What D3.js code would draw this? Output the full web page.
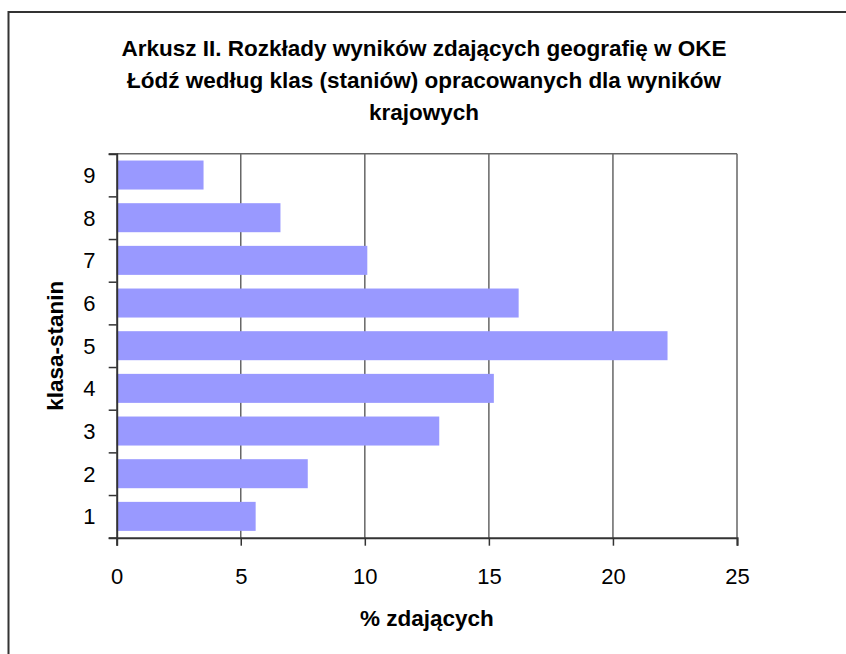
<!DOCTYPE html>
<html>
<head>
<meta charset="utf-8">
<script src="https://cdn.jsdelivr.net/npm/d3@7"></script>
<style>
  html, body { margin: 0; padding: 0; background: #fff; }
  svg { display: block; font-family: Arial, "Liberation Sans", sans-serif; }
</style>
</head>
<body>
<svg id="chart" width="846" height="654"></svg>
<script>
// data
var classes = ['1', '2', '3', '4', '5', '6', '7', '8', '9']
var percents = [5.6, 7.7, 13.0, 15.2, 22.2, 16.2, 10.1, 6.6, 3.5]
var xTicks = [0, 5, 10, 15, 20, 25]
var titleLines = [
  'Arkusz II. Rozkłady wyników zdających geografię w OKE',
  'Łódź według klas (staniów) opracowanych dla wyników',
  'krajowych'
]
var xTitle = '% zdających'
var yTitle = 'klasa-stanin'

var barColor = '#9999ff'
var gridColor = '#666'
var axisColor = '#333'
var tickFont = 22
var boldFont = 22.5

var svg = d3.select('#chart')
var plotL = 116.7, plotR = 737, plotT = 153.7, plotB = 537.7

// outer frame (runs off the right and bottom edges)
svg.append('rect')
  .attr('x', 8.5).attr('y', 12)
  .attr('width', 900).attr('height', 700)
  .attr('fill', 'none')
  .attr('stroke', axisColor)
  .attr('stroke-width', 2)

var x = d3.scaleLinear().domain([0, 25]).range([plotL, plotR])
var y = d3.scaleBand().domain(classes.slice().reverse()).range([plotT, plotB]).paddingInner(0.32).paddingOuter(0.16)

// grid lines
svg.append('g').selectAll('line')
  .data(xTicks.slice(1))
  .enter().append('line')
  .attr('x1', function(d) { return x(d) }).attr('x2', function(d) { return x(d) })
  .attr('y1', plotT).attr('y2', plotB)
  .attr('stroke', gridColor).attr('stroke-width', 1.5)

svg.append('line')
  .attr('x1', plotL).attr('x2', plotR)
  .attr('y1', plotT).attr('y2', plotT)
  .attr('stroke', gridColor).attr('stroke-width', 1.5)

// bars
svg.append('g').selectAll('rect')
  .data(classes)
  .enter().append('rect')
  .attr('x', x(0))
  .attr('y', function(d) { return y(d) })
  .attr('width', function(d, i) { return x(percents[i]) - x(0) })
  .attr('height', y.bandwidth())
  .attr('fill', barColor)

// axes
var yBound = d3.scaleLinear().domain([0, classes.length]).range([plotB, plotT])
var yAxis = d3.axisLeft(yBound).ticks(classes.length).tickSize(8).tickFormat('')
var gy = svg.append('g').attr('transform', 'translate(' + plotL + ',0)').call(yAxis)
gy.select('.domain').attr('stroke', axisColor).attr('stroke-width', 2)
gy.selectAll('.tick line').attr('stroke', axisColor).attr('stroke-width', 1.5)

var xAxis = d3.axisBottom(x).tickValues(xTicks).tickSize(8).tickFormat(d3.format('d'))
var gx = svg.append('g').attr('transform', 'translate(0,' + plotB + ')').call(xAxis)
gx.select('.domain').attr('stroke', axisColor).attr('stroke-width', 2)
gx.selectAll('.tick line').attr('stroke', axisColor).attr('stroke-width', 1.5)
gx.selectAll('.tick text')
  .attr('y', 0).attr('dy', null)
  .attr('transform', 'translate(0,46)')
  .attr('font-size', tickFont).attr('font-family', 'Arial, "Liberation Sans", sans-serif')
  .attr('fill', '#000')

// category labels
svg.append('g').selectAll('text')
  .data(classes)
  .enter().append('text')
  .attr('x', 95.5)
  .attr('y', function(d) { return y(d) + y.bandwidth() / 2 + 8 })
  .attr('text-anchor', 'end')
  .attr('font-size', tickFont)
  .text(function(d) { return d })

// titles
svg.append('g').selectAll('text')
  .data(titleLines)
  .enter().append('text')
  .attr('x', 424)
  .attr('y', function(d, i) { return 56 + i * 32 })
  .attr('text-anchor', 'middle')
  .attr('font-size', boldFont)
  .attr('font-weight', 'bold')
  .text(function(d) { return d })

svg.append('text')
  .attr('x', (plotL + plotR) / 2).attr('y', 626)
  .attr('text-anchor', 'middle')
  .attr('font-size', boldFont).attr('font-weight', 'bold')
  .text(xTitle)

svg.append('text')
  .attr('transform', 'translate(63,' + (plotT + plotB) / 2 + ') rotate(-90)')
  .attr('text-anchor', 'middle')
  .attr('font-size', boldFont).attr('font-weight', 'bold')
  .text(yTitle)
</script>
</body>
</html>
